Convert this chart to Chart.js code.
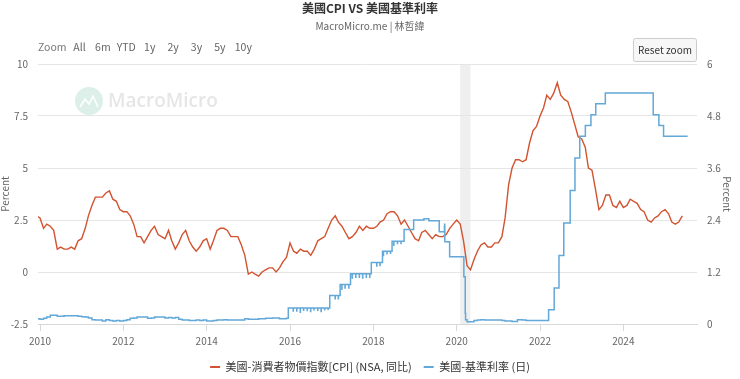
<!DOCTYPE html>
<html>
<head>
<meta charset="utf-8">
<title>美國CPI VS 美國基準利率</title>
<script src="https://cdn.jsdelivr.net/npm/chart.js@4.4.1/dist/chart.umd.min.js"></script>
<style>
  html, body { margin: 0; padding: 0; background: #fff; }
  #wrap { width: 740px; height: 379px; position: relative; }
</style>
</head>
<body>
<div id="wrap"><canvas id="grafico" width="740" height="379"></canvas></div>
<script>
// dados
const cpiFirstMonth = [2009, 11]; // dez 2009 (mês 0-based)
const cpiValues = [
  2.7,
  2.6, 2.1, 2.3, 2.2, 2.0, 1.1, 1.2, 1.1, 1.1, 1.2, 1.1, 1.5,
  1.6, 2.1, 2.7, 3.2, 3.6, 3.6, 3.6, 3.8, 3.9, 3.5, 3.4, 3.0,
  2.9, 2.9, 2.7, 2.3, 1.7, 1.7, 1.4, 1.7, 2.0, 2.2, 1.8, 1.7,
  1.6, 2.0, 1.5, 1.1, 1.4, 1.8, 2.0, 1.5, 1.2, 1.0, 1.2, 1.5,
  1.6, 1.1, 1.5, 2.0, 2.1, 2.1, 2.0, 1.7, 1.7, 1.7, 1.3, 0.8,
  -0.1, 0.0, -0.1, -0.2, 0.0, 0.1, 0.2, 0.2, 0.0, 0.2, 0.5, 0.7,
  1.4, 1.0, 0.9, 1.1, 1.0, 1.0, 0.8, 1.1, 1.5, 1.6, 1.7, 2.1,
  2.5, 2.7, 2.4, 2.2, 1.9, 1.6, 1.7, 1.9, 2.2, 2.0, 2.2, 2.1,
  2.1, 2.2, 2.4, 2.5, 2.8, 2.9, 2.9, 2.7, 2.3, 2.5, 2.2, 1.9,
  1.6, 1.5, 1.9, 2.0, 1.8, 1.6, 1.8, 1.7, 1.7, 1.8, 2.1, 2.3,
  2.5, 2.3, 1.5, 0.3, 0.1, 0.6, 1.0, 1.3, 1.4, 1.2, 1.2, 1.4,
  1.4, 1.7, 2.6, 4.2, 5.0, 5.4, 5.4, 5.3, 5.4, 6.2, 6.8, 7.0,
  7.5, 7.9, 8.5, 8.3, 8.6, 9.1, 8.5, 8.3, 8.2, 7.7, 7.1, 6.5,
  6.4, 6.0, 5.0, 4.9, 4.0, 3.0, 3.2, 3.7, 3.7, 3.2, 3.1, 3.4,
  3.1, 3.2, 3.5, 3.4, 3.3, 3.0, 2.9, 2.5, 2.4, 2.6, 2.7, 2.9,
  3.0, 2.8, 2.4, 2.3, 2.4, 2.7
];

// taxa básica: [data a partir da qual vale, valor]
const fedSteps = [
  ['2009-12-01', 0.12],
  ['2010-01-01', 0.11], ['2010-02-01', 0.13], ['2010-03-01', 0.16], ['2010-04-01', 0.20],
  ['2010-05-01', 0.20], ['2010-06-01', 0.18], ['2010-07-01', 0.18], ['2010-08-01', 0.19],
  ['2010-09-01', 0.19], ['2010-10-01', 0.19], ['2010-11-01', 0.19], ['2010-12-01', 0.18],
  ['2011-01-01', 0.17], ['2011-02-01', 0.16], ['2011-03-01', 0.14], ['2011-04-01', 0.10],
  ['2011-05-01', 0.09], ['2011-06-01', 0.09], ['2011-07-01', 0.07], ['2011-08-01', 0.10],
  ['2011-09-01', 0.08], ['2011-10-01', 0.07], ['2011-11-01', 0.08], ['2011-12-01', 0.07],
  ['2012-01-01', 0.08], ['2012-02-01', 0.10], ['2012-03-01', 0.13], ['2012-04-01', 0.14],
  ['2012-05-01', 0.16], ['2012-06-01', 0.16], ['2012-07-01', 0.16], ['2012-08-01', 0.13],
  ['2012-09-01', 0.14], ['2012-10-01', 0.16], ['2012-11-01', 0.16], ['2012-12-01', 0.16],
  ['2013-01-01', 0.14], ['2013-02-01', 0.15], ['2013-03-01', 0.14], ['2013-04-01', 0.15],
  ['2013-05-01', 0.11], ['2013-06-01', 0.09], ['2013-07-01', 0.09], ['2013-08-01', 0.08],
  ['2013-09-01', 0.08], ['2013-10-01', 0.09], ['2013-11-01', 0.08], ['2013-12-01', 0.09],
  ['2014-01-01', 0.07], ['2014-02-01', 0.07], ['2014-03-01', 0.08], ['2014-04-01', 0.09],
  ['2014-05-01', 0.09], ['2014-06-01', 0.10], ['2014-07-01', 0.09], ['2014-08-01', 0.09],
  ['2014-09-01', 0.09], ['2014-10-01', 0.09], ['2014-11-01', 0.09], ['2014-12-01', 0.12],
  ['2015-01-01', 0.11], ['2015-02-01', 0.11], ['2015-03-01', 0.11], ['2015-04-01', 0.12],
  ['2015-05-01', 0.12], ['2015-06-01', 0.13], ['2015-07-01', 0.13], ['2015-08-01', 0.14],
  ['2015-09-01', 0.14], ['2015-10-01', 0.12], ['2015-11-01', 0.12], ['2015-12-01', 0.13],
  ['2015-12-17', 0.37], ['2016-12-15', 0.66], ['2017-03-16', 0.91], ['2017-06-15', 1.16],
  ['2017-12-14', 1.42], ['2018-03-22', 1.68], ['2018-06-14', 1.91], ['2018-09-27', 2.18],
  ['2018-12-20', 2.40], ['2019-03-20', 2.43], ['2019-05-02', 2.38], ['2019-08-01', 2.13],
  ['2019-09-16', 2.25], ['2019-09-17', 2.30], ['2019-09-18', 2.25], ['2019-09-19', 1.90],
  ['2019-10-31', 1.55], ['2020-03-04', 1.09], ['2020-03-16', 0.25], ['2020-03-19', 0.10],
  ['2020-04-01', 0.05], ['2020-06-01', 0.08], ['2020-07-01', 0.09], ['2020-08-01', 0.10],
  ['2020-09-01', 0.09], ['2021-01-01', 0.09], ['2021-02-01', 0.08], ['2021-03-01', 0.07],
  ['2021-05-01', 0.06], ['2021-06-17', 0.10], ['2021-08-01', 0.09], ['2021-09-01', 0.08],
  ['2022-03-17', 0.33], ['2022-05-05', 0.83], ['2022-06-16', 1.58], ['2022-07-28', 2.33],
  ['2022-09-22', 3.08], ['2022-11-03', 3.83], ['2022-12-15', 4.33], ['2023-02-02', 4.58],
  ['2023-03-23', 4.83], ['2023-05-04', 5.08], ['2023-07-27', 5.33], ['2024-09-19', 4.83],
  ['2024-11-08', 4.58], ['2024-12-19', 4.33], ['2025-07-18', 4.33]
];

// quedas de fim de mês visíveis na série diária
const fedDips = [
  ['2016-01-29', 0.30], ['2016-02-29', 0.30], ['2016-03-31', 0.27], ['2016-04-29', 0.32],
  ['2016-05-31', 0.31], ['2016-06-30', 0.29], ['2016-07-29', 0.33], ['2016-08-31', 0.32],
  ['2016-09-30', 0.29], ['2016-10-31', 0.33], ['2016-11-30', 0.34], ['2017-01-31', 0.58],
  ['2017-02-28', 0.58], ['2017-03-31', 0.80], ['2017-04-28', 0.83], ['2017-05-31', 0.83],
  ['2017-06-30', 1.06], ['2017-07-31', 1.08], ['2017-08-31', 1.08], ['2017-09-29', 1.06],
  ['2017-10-31', 1.08], ['2017-11-30', 1.08], ['2018-01-31', 1.34], ['2018-02-28', 1.35],
  ['2018-03-30', 1.58], ['2018-04-30', 1.62], ['2018-05-31', 1.63], ['2018-06-29', 1.82],
  ['2018-07-31', 1.86], ['2018-08-31', 1.86]
];

const recessionBand = ['2020-02-01', '2020-04-30'];
const xTickYears = [2010, 2012, 2014, 2016, 2018, 2020, 2022, 2024];
const leftTicks = [-2.5, 0, 2.5, 5, 7.5, 10];
const rightTicks = [0, 1.2, 2.4, 3.6, 4.8, 6];
const rangeButtons = ['All', '6m', 'YTD', '1y', '2y', '3y', '5y', '10y'];

const serieCPI = '美國-消費者物價指數[CPI] (NSA, 同比)';
const serieFed = '美國-基準利率 (日)';

const FONTE = "'Liberation Sans Narrow', 'Noto Sans CJK TC', sans-serif";
const corCPI = '#d2532f';
const corFed = '#62a8d8';

// data -> ano decimal
function ano(s) {
  const d = typeof s === 'string' ? new Date(s + 'T00:00:00Z') : s;
  const y = d.getUTCFullYear();
  return y + (d - Date.UTC(y, 0, 1)) / (Date.UTC(y + 1, 0, 1) - Date.UTC(y, 0, 1));
}

const pontosCPI = cpiValues.map((v, i) => ({
  x: ano(new Date(Date.UTC(cpiFirstMonth[0], cpiFirstMonth[1] + i, 1))),
  y: v
}));

function nivelEm(x) {
  let v = fedSteps[0][1];
  for (const [d, val] of fedSteps) { if (ano(d) <= x) v = val; }
  return v;
}

const pontosFed = fedSteps.map(([d, v]) => ({ x: ano(d), y: v }));
fedDips.forEach(([d, v]) => {
  const x = ano(d);
  pontosFed.push({ x, y: v });
  pontosFed.push({ x: x + 1 / 365, y: nivelEm(x) });
});
pontosFed.sort((a, b) => a.x - b.x);

Chart.defaults.font.family = FONTE;

const decoracao = {
  id: 'decoracao',
  beforeDraw(chart) {
    const { ctx, chartArea, scales } = chart;
    ctx.save();
    // faixa de recessão
    const x1 = scales.x.getPixelForValue(ano(recessionBand[0]));
    const x2 = scales.x.getPixelForValue(ano(recessionBand[1]));
    ctx.fillStyle = '#efefef';
    ctx.fillRect(x1, chartArea.top, x2 - x1, chartArea.bottom - chartArea.top);
    // marca d'água
    ctx.fillStyle = '#dcf0e9';
    ctx.beginPath();
    ctx.arc(89, 101, 14, 0, Math.PI * 2);
    ctx.fill();
    ctx.strokeStyle = '#ffffff';
    ctx.lineWidth = 1.5;
    ctx.beginPath();
    ctx.moveTo(80, 107); ctx.lineTo(85, 99); ctx.lineTo(89, 104); ctx.lineTo(93, 96); ctx.lineTo(98, 107);
    ctx.stroke();
    ctx.fillStyle = '#e6e6e6';
    ctx.font = "600 19px 'Open Sans', sans-serif";
    ctx.textBaseline = 'middle';
    ctx.textAlign = 'left';
    ctx.fillText('MacroMicro', 108, 102);
    ctx.restore();
  },
  afterDraw(chart) {
    const { ctx } = chart;
    ctx.save();
    ctx.font = '10.5px ' + FONTE;
    ctx.textBaseline = 'middle';
    ctx.textAlign = 'left';
    ctx.fillStyle = '#777';
    ctx.fillText('Zoom', 38, 47);
    ctx.textAlign = 'center';
    ctx.fillStyle = '#666';
    rangeButtons.forEach((b, i) => ctx.fillText(b, 79.5 + i * 23.4, 47));
    // botão reset
    ctx.fillStyle = '#f7f7f7';
    ctx.strokeStyle = '#cccccc';
    ctx.lineWidth = 1;
    ctx.beginPath();
    ctx.roundRect(633.5, 38.5, 63, 23, 2);
    ctx.fill();
    ctx.stroke();
    ctx.font = '10px ' + FONTE;
    ctx.fillStyle = '#333';
    ctx.fillText('Reset zoom', 665, 50);
    ctx.restore();
  }
};

const ticksComuns = { color: '#666', font: { size: 10 }, padding: 10, callback: v => String(v) };

new Chart(document.getElementById('grafico'), {
  type: 'line',
  data: {
    datasets: [
      {
        label: serieCPI,
        data: pontosCPI,
        yAxisID: 'y',
        borderColor: corCPI,
        backgroundColor: corCPI,
        borderWidth: 1.4,
        pointRadius: 0,
        tension: 0,
        order: 1
      },
      {
        label: serieFed,
        data: pontosFed,
        yAxisID: 'y1',
        borderColor: corFed,
        backgroundColor: corFed,
        borderWidth: 1.5,
        pointRadius: 0,
        stepped: true,
        order: 0
      }
    ]
  },
  options: {
    responsive: false,
    devicePixelRatio: 1,
    animation: false,
    events: [],
    layout: { padding: { left: 0, right: 0, top: 0, bottom: -3.5 } },
    plugins: {
      title: {
        display: true,
        text: '美國CPI VS 美國基準利率',
        color: '#333',
        font: { size: 12, weight: 'bold' },
        padding: { top: 1.5, bottom: 0 }
      },
      subtitle: {
        display: true,
        text: 'MacroMicro.me | 林哲緯',
        color: '#666',
        font: { size: 10 },
        padding: { top: 4.1, bottom: 32 }
      },
      legend: {
        position: 'bottom',
        labels: {
          color: '#333',
          font: { size: 11 },
          boxWidth: 10,
          boxHeight: 2,
          padding: 12,
          generateLabels(chart) {
            const itens = Chart.defaults.plugins.legend.labels.generateLabels(chart);
            itens.forEach(it => { it.lineWidth = 0; it.fillStyle = it.strokeStyle; });
            return itens.sort((a, b) => a.datasetIndex - b.datasetIndex);
          }
        }
      },
      tooltip: { enabled: false }
    },
    scales: {
      x: {
        type: 'linear',
        min: 2009.952,
        max: 2025.767,
        afterBuildTicks: s => { s.ticks = xTickYears.map(v => ({ value: v })); },
        afterFit: s => { s.height = 25.5; },
        grid: { drawOnChartArea: false, drawTicks: true, tickLength: 7, color: '#d8d8d8' },
        border: { color: '#d8d8d8' },
        ticks: { color: '#666', font: { size: 10 }, padding: 4, maxRotation: 0, autoSkip: false, callback: v => String(v) }
      },
      y: {
        position: 'left',
        min: -2.5,
        max: 10,
        afterBuildTicks: s => { s.ticks = leftTicks.map(v => ({ value: v })); },
        afterFit: s => { s.width = 38; },
        grid: { color: '#e6e6e6', drawTicks: false },
        border: { display: false },
        ticks: ticksComuns,
        title: { display: true, text: 'Percent', color: '#666', font: { size: 10, lineHeight: 1 }, padding: 0 }
      },
      y1: {
        position: 'right',
        min: 0,
        max: 6,
        afterBuildTicks: s => { s.ticks = rightTicks.map(v => ({ value: v })); },
        afterFit: s => { s.width = 43; },
        grid: { drawOnChartArea: false, drawTicks: false },
        border: { display: false },
        ticks: ticksComuns,
        title: { display: true, text: 'Percent', color: '#666', font: { size: 10, lineHeight: 1 }, padding: { top: 8, bottom: 0 } }
      }
    }
  },
  plugins: [decoracao]
});
</script>
</body>
</html>
